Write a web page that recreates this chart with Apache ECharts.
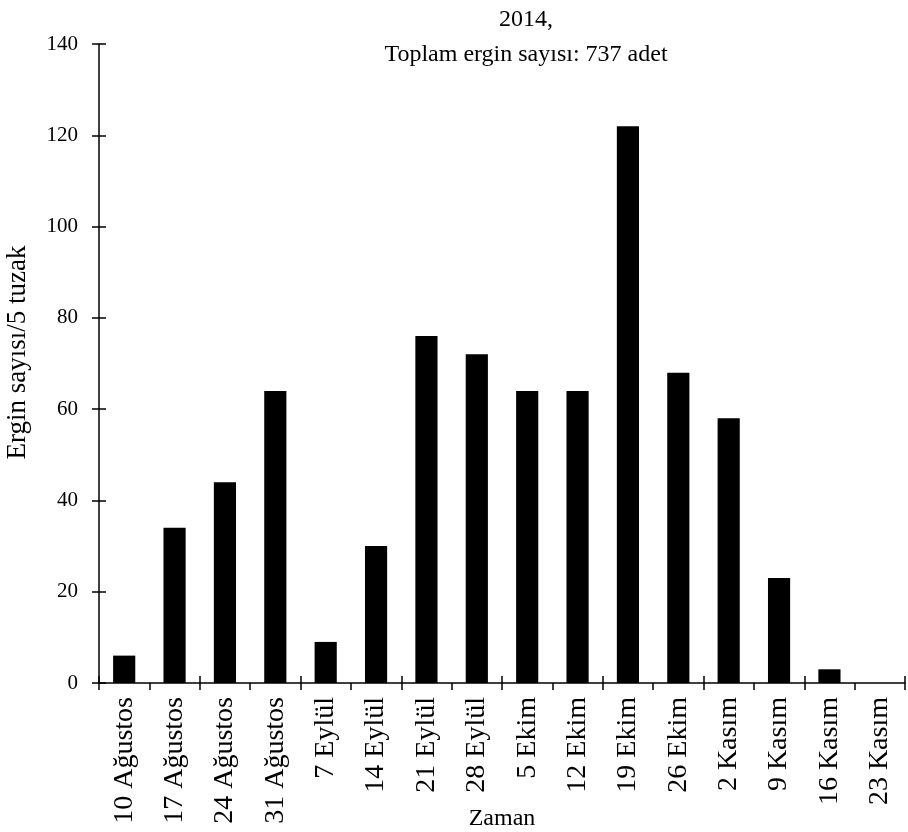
<!DOCTYPE html>
<html>
<head>
<meta charset="utf-8">
<script src="https://cdn.jsdelivr.net/npm/echarts@6/dist/echarts.min.js"></script>
<style>
html,body{margin:0;padding:0;background:#fff;}
#chart{width:908px;height:832px;}
</style>
</head>
<body>
<div id="chart"></div>
<script>
const categories = ['10 Ağustos','17 Ağustos','24 Ağustos','31 Ağustos','7 Eylül','14 Eylül','21 Eylül','28 Eylül','5 Ekim','12 Ekim','19 Ekim','26 Ekim','2 Kasım','9 Kasım','16 Kasım','23 Kasım'];
const values = [6,34,44,64,9,30,76,72,64,64,122,68,58,23,3,0];
const titleLines = ['2014,','Toplam ergin sayısı: 737 adet'];
const yAxisName = 'Ergin sayısı/5 tuzak';
const xAxisName = 'Zaman';
const yMin = 0, yMax = 140, yStep = 20;

const FONT = '"Liberation Serif","Times New Roman",serif';
const chart = echarts.init(document.getElementById('chart'), null, {renderer:'canvas'});
const grid = {left:99, right:3, top:44, bottom:149, containLabel:false, outerBoundsMode:'none'};
chart.setOption({
  animation:false,
  backgroundColor:'#fff',
  title:{
    text: titleLines.join('\n'),
    left: 521, top: -3, textAlign:'center',
    textStyle:{fontFamily:FONT, fontSize:24, fontWeight:'normal', color:'#000', lineHeight:35}
  },
  grid: grid,
  xAxis:[{
    type:'category', data:categories, position:'bottom',
    axisLine:{show:true, lineStyle:{color:'#000', width:1.5}},
    axisTick:{show:true, length:7, inside:false, lineStyle:{color:'#000', width:1.5}},
    axisLabel:{rotate:90, fontFamily:FONT, fontSize:28, color:'#000', margin:14, interval:0},
    name:xAxisName, nameLocation:'middle', nameGap:124, nameMoveOverlap:false,
    nameTextStyle:{fontFamily:FONT, fontSize:24, color:'#000'}
  },{
    type:'category', data:categories, position:'bottom',
    axisLine:{show:false},
    axisTick:{show:true, length:7, inside:true, lineStyle:{color:'#000', width:1.5}},
    axisLabel:{show:false}
  }],
  yAxis:[{
    type:'value', min:yMin, max:yMax, interval:yStep, position:'left',
    axisLine:{show:true, lineStyle:{color:'#000', width:1.5}},
    axisTick:{show:true, length:7, inside:false, lineStyle:{color:'#000', width:1.5}},
    axisLabel:{fontFamily:FONT, fontSize:21, color:'#000', margin:21},
    splitLine:{show:false},
    name:yAxisName, nameLocation:'middle', nameGap:68, nameRotate:90, nameMoveOverlap:false,
    nameTextStyle:{fontFamily:FONT, fontSize:27, color:'#000', padding:[0,0,0,22]}
  },{
    type:'value', min:yMin, max:yMax, interval:yStep, position:'left',
    axisLine:{show:false},
    axisTick:{show:true, length:7, inside:true, lineStyle:{color:'#000', width:1.5}},
    axisLabel:{show:false},
    splitLine:{show:false}
  }],
  series:[{
    type:'bar', data:values, xAxisIndex:0, yAxisIndex:0,
    barWidth:'44%',
    itemStyle:{color:'#000'}
  }]
});
</script>
</body>
</html>
